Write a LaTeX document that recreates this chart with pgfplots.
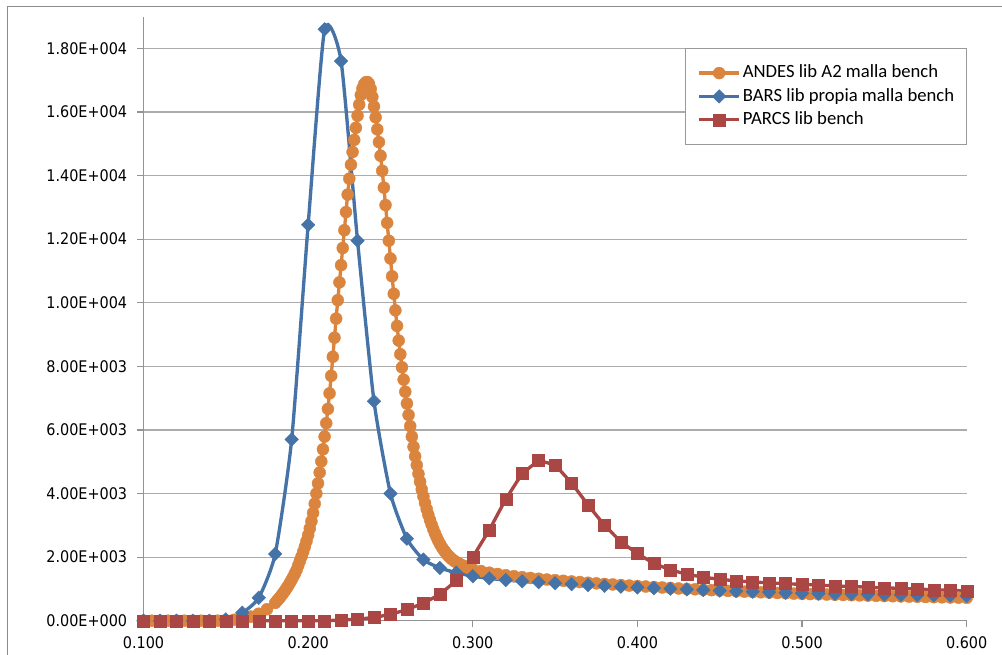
\documentclass[border=0pt]{standalone}
\usepackage{fontspec}
\usepackage{pgfplots}
\pgfplotsset{compat=1.18}
\usepackage{pgfplotstable}
\newfontfamily\tickfont[FakeStretch=0.9]{DejaVu Sans}
\newfontfamily\legfont{Carlito}
\definecolor{cOr}{HTML}{DB843D}
\definecolor{cBl}{HTML}{4572A7}
\definecolor{cRd}{HTML}{AA4643}

\pgfplotstableread{
x y
0.100 0
0.105 0
0.110 0
0.115 0
0.120 0
0.125 0
0.130 0
0.135 0
0.140 0
0.145 0
0.150 10
0.155 30
0.160 70
0.165 130
0.170 220
0.175 360
0.180 560
0.181 620
0.182 680
0.183 740
0.184 810
0.185 880
0.186 950
0.187 1030
0.188 1110
0.189 1200
0.190 1290
0.191 1390
0.192 1490
0.193 1600
0.194 1740
0.195 1880
0.196 2020
0.197 2170
0.198 2330
0.199 2500
0.200 2690
0.201 2900
0.202 3130
0.203 3390
0.204 3680
0.205 4000
0.206 4320
0.207 4660
0.208 5010
0.209 5390
0.210 5790
0.211 6210
0.212 6660
0.213 7150
0.214 7700
0.215 8300
0.216 8900
0.217 9500
0.218 10080
0.219 10640
0.220 11180
0.221 11720
0.222 12280
0.223 12850
0.224 13400
0.225 13900
0.226 14340
0.227 14740
0.228 15120
0.229 15500
0.230 15880
0.231 16230
0.232 16530
0.233 16740
0.234 16870
0.235 16930
0.236 16940
0.237 16880
0.238 16720
0.239 16470
0.240 16170
0.241 15830
0.242 15450
0.243 15050
0.244 14620
0.245 14150
0.246 13620
0.247 13070
0.248 12510
0.249 11950
0.250 11390
0.251 10830
0.252 10280
0.253 9760
0.254 9270
0.255 8810
0.256 8380
0.257 7970
0.258 7580
0.259 7200
0.260 6830
0.261 6470
0.262 6120
0.263 5790
0.264 5470
0.265 5170
0.266 4890
0.267 4620
0.268 4370
0.269 4130
0.270 3910
0.271 3700
0.272 3510
0.273 3330
0.274 3170
0.275 3020
0.276 2880
0.277 2750
0.278 2630
0.279 2520
0.280 2420
0.281 2330
0.282 2250
0.283 2180
0.284 2110
0.285 2050
0.286 2000
0.287 1950
0.288 1910
0.289 1870
0.290 1840
0.291 1810
0.292 1780
0.293 1755
0.294 1730
0.295 1710
0.296 1690
0.297 1670
0.298 1650
0.299 1635
0.300 1620
0.305 1560
0.310 1510
0.315 1470
0.320 1430
0.325 1400
0.330 1370
0.335 1345
0.340 1320
0.345 1295
0.350 1275
0.355 1255
0.360 1235
0.365 1215
0.370 1195
0.375 1175
0.380 1155
0.385 1140
0.390 1120
0.395 1105
0.400 1090
0.405 1075
0.410 1060
0.415 1045
0.420 1030
0.425 1015
0.430 1000
0.435 988
0.440 975
0.445 962
0.450 950
0.455 938
0.460 926
0.465 914
0.470 902
0.475 893
0.480 885
0.485 873
0.490 862
0.495 853
0.500 845
0.505 838
0.510 831
0.515 824
0.520 817
0.525 810
0.530 803
0.535 796
0.540 789
0.545 782
0.550 776
0.555 770
0.560 764
0.565 758
0.570 752
0.575 746
0.580 740
0.585 735
0.590 730
0.595 725
0.600 720
}\andes

\pgfplotstableread{
x y
0.10 0
0.11 0
0.12 0
0.13 0
0.14 0
0.15 40
0.16 250
0.17 720
0.18 2100
0.19 5700
0.20 12450
0.21 18600
0.22 17600
0.23 11950
0.24 6900
0.25 4000
0.26 2580
0.27 1920
0.28 1660
0.29 1510
0.30 1400
0.31 1330
0.32 1280
0.33 1240
0.34 1210
0.35 1180
0.36 1150
0.37 1120
0.38 1095
0.39 1070
0.40 1045
0.41 1025
0.42 1005
0.43 985
0.44 965
0.45 945
0.46 930
0.47 915
0.48 900
0.49 882
0.50 865
0.51 855
0.52 846
0.53 837
0.54 828
0.55 820
0.56 812
0.57 804
0.58 796
0.59 788
0.60 780
}\bars

\pgfplotstableread{
x y
0.10 0
0.11 0
0.12 0
0.13 0
0.14 0
0.15 0
0.16 0
0.17 0
0.18 0
0.19 0
0.20 0
0.21 0
0.22 20
0.23 50
0.24 100
0.25 200
0.26 350
0.27 550
0.28 830
0.29 1260
0.30 2000
0.31 2850
0.32 3820
0.33 4630
0.34 5040
0.35 4900
0.36 4330
0.37 3640
0.38 3000
0.39 2480
0.40 2110
0.41 1800
0.42 1600
0.43 1460
0.44 1370
0.45 1300
0.46 1255
0.47 1220
0.48 1190
0.49 1165
0.50 1140
0.51 1120
0.52 1095
0.53 1075
0.54 1055
0.55 1035
0.56 1015
0.57 995
0.58 975
0.59 955
0.60 935
}\parcs

\begin{document}
\begin{tikzpicture}
\path[use as bounding box] (0pt,0pt) rectangle (751.5pt,-490.5pt);
\draw[gray!90, line width=0.75pt] (5.25pt,-800pt) -- (5.25pt,-4.5pt) -- (800pt,-4.5pt);
\begin{axis}[
  at={(107.625pt,-465.525pt)}, anchor=south west,
  scale only axis, width=617.4pt, height=453.15pt,
  xmin=0.1, xmax=0.6, ymin=0, ymax=19000,
  axis x line=bottom, axis y line=left,
  axis line style={-, gray!85, line width=0.9pt},
  xtick={0.1,0.2,0.3,0.4,0.5,0.6},
  xticklabels={0.100,0.200,0.300,0.400,0.500,0.600},
  ytick={0,2000,4000,6000,8000,10000,12000,14000,16000,18000},
  yticklabels={0.00E+000,2.00E+003,4.00E+003,6.00E+003,8.00E+003,1.00E+004,1.20E+004,1.40E+004,1.60E+004,1.80E+004},
  scaled ticks=false,
  tick align=outside, major tick length=4.75pt,
  tick style={gray!85, line width=0.9pt},
  minor tick num=0,
  ymajorgrids, grid style={gray!65, line width=0.9pt},
  ticklabel style={font=\tickfont\fontsize{12}{14}\selectfont, text=black},
  yticklabel style={xshift=-4pt},
  xticklabel style={yshift=-4pt},
  clip=false,
  legend style={at={(1,0.948)}, anchor=north east, draw=gray!80, line width=0.75pt, fill=white,
    font=\legfont\fontsize{14}{17}\selectfont, inner xsep=9pt, inner ysep=12pt, row sep=4.5pt,
    column sep=1.5pt,
    nodes={inner sep=0pt, text height=10pt, text depth=3pt}},
  legend cell align=left,
  legend image code/.code={\draw[mark repeat=2,mark phase=2,#1] plot coordinates {(0pt,0pt) (15pt,0pt) (30pt,0pt)};},
]
\addplot[color=cOr, line width=2.5pt, mark=*, mark size=4.5pt, mark options={fill=cOr, draw=cOr, line width=0.3pt, solid}] table[x=x,y=y] {\andes};
\addlegendentry{ANDES lib A2 malla bench}
\addplot[color=cBl, line width=2.5pt, smooth, tension=0.35, mark=square*, mark size=3.6pt, mark options={rotate=45, fill=cBl, draw=cBl, line width=0.3pt, solid}] table[x=x,y=y] {\bars};
\addlegendentry{BARS lib propia malla bench}
\addplot[color=cRd, line width=2.5pt, mark=square*, mark size=4.5pt, mark options={fill=cRd, draw=cRd, line width=0.3pt, solid}] table[x=x,y=y] {\parcs};
\addlegendentry{PARCS lib bench}
\end{axis}
\end{tikzpicture}
\end{document}
